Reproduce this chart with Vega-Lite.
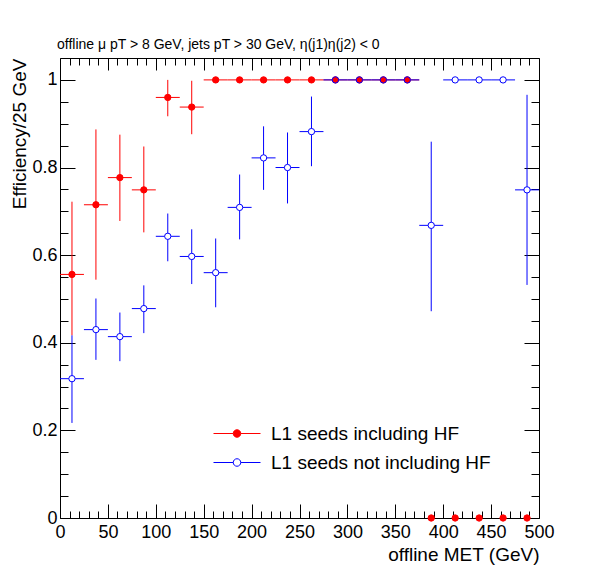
{
  "$schema": "https://vega.github.io/schema/vega-lite/v6.json",
  "autosize": "none",
  "padding": {"left": 60, "top": 58, "right": 59, "bottom": 58},
  "width": 479,
  "height": 460,
  "background": "white",
  "config": {
    "font": "Liberation Sans",
    "view": {"stroke": null},
    "axis": {"grid": false, "domainColor": "black", "tickColor": "black", "labelColor": "black", "titleColor": "black", "labelFont": "Liberation Sans", "titleFont": "Liberation Sans", "titleFontWeight": "normal", "labelFontSize": 18, "titleFontSize": 19, "domainWidth": 1, "tickWidth": 1}
  },
  "title": {"text": "offline μ pT > 8 GeV, jets pT > 30 GeV, η(j1)η(j2) < 0", "anchor": "start", "frame": "group", "fontSize": 14, "fontWeight": "normal", "font": "Liberation Sans", "color": "black", "offset": 6, "dx": -3},
  "datasets": {
    "eff": [
      {"series": "L1 seeds including HF", "met": 12.5, "bin_start": 0, "bin_end": 25, "eff": 0.556, "lo": 0.417, "hi": 0.722},
      {"series": "L1 seeds including HF", "met": 37.5, "bin_start": 25, "bin_end": 50, "eff": 0.715, "lo": 0.544, "hi": 0.887},
      {"series": "L1 seeds including HF", "met": 62.5, "bin_start": 50, "bin_end": 75, "eff": 0.777, "lo": 0.678, "hi": 0.875},
      {"series": "L1 seeds including HF", "met": 87.5, "bin_start": 75, "bin_end": 100, "eff": 0.749, "lo": 0.652, "hi": 0.848},
      {"series": "L1 seeds including HF", "met": 112.5, "bin_start": 100, "bin_end": 125, "eff": 0.960, "lo": 0.917, "hi": 1.0},
      {"series": "L1 seeds including HF", "met": 137.5, "bin_start": 125, "bin_end": 150, "eff": 0.938, "lo": 0.876, "hi": 0.998},
      {"series": "L1 seeds including HF", "met": 162.5, "bin_start": 150, "bin_end": 175, "eff": 1.0, "lo": 1.0, "hi": 1.0},
      {"series": "L1 seeds including HF", "met": 187.5, "bin_start": 175, "bin_end": 200, "eff": 1.0, "lo": 1.0, "hi": 1.0},
      {"series": "L1 seeds including HF", "met": 212.5, "bin_start": 200, "bin_end": 225, "eff": 1.0, "lo": 1.0, "hi": 1.0},
      {"series": "L1 seeds including HF", "met": 237.5, "bin_start": 225, "bin_end": 250, "eff": 1.0, "lo": 1.0, "hi": 1.0},
      {"series": "L1 seeds including HF", "met": 262.5, "bin_start": 250, "bin_end": 275, "eff": 1.0, "lo": 1.0, "hi": 1.0},
      {"series": "L1 seeds including HF", "met": 287.5, "bin_start": 275, "bin_end": 300, "eff": 1.0, "lo": 1.0, "hi": 1.0},
      {"series": "L1 seeds including HF", "met": 312.5, "bin_start": 300, "bin_end": 325, "eff": 1.0, "lo": 1.0, "hi": 1.0},
      {"series": "L1 seeds including HF", "met": 337.5, "bin_start": 325, "bin_end": 350, "eff": 1.0, "lo": 1.0, "hi": 1.0},
      {"series": "L1 seeds including HF", "met": 362.5, "bin_start": 350, "bin_end": 375, "eff": 1.0, "lo": 1.0, "hi": 1.0},
      {"series": "L1 seeds including HF", "met": 387.5, "bin_start": 375, "bin_end": 400, "eff": 0.0, "lo": 0.0, "hi": 0.0},
      {"series": "L1 seeds including HF", "met": 412.5, "bin_start": 400, "bin_end": 425, "eff": 0.0, "lo": 0.0, "hi": 0.0},
      {"series": "L1 seeds including HF", "met": 437.5, "bin_start": 425, "bin_end": 450, "eff": 0.0, "lo": 0.0, "hi": 0.0},
      {"series": "L1 seeds including HF", "met": 462.5, "bin_start": 450, "bin_end": 475, "eff": 0.0, "lo": 0.0, "hi": 0.0},
      {"series": "L1 seeds including HF", "met": 487.5, "bin_start": 475, "bin_end": 500, "eff": 0.0, "lo": 0.0, "hi": 0.0},
      {"series": "L1 seeds not including HF", "met": 12.5, "bin_start": 0, "bin_end": 25, "eff": 0.318, "lo": 0.217, "hi": 0.417},
      {"series": "L1 seeds not including HF", "met": 37.5, "bin_start": 25, "bin_end": 50, "eff": 0.430, "lo": 0.361, "hi": 0.501},
      {"series": "L1 seeds not including HF", "met": 62.5, "bin_start": 50, "bin_end": 75, "eff": 0.414, "lo": 0.358, "hi": 0.469},
      {"series": "L1 seeds not including HF", "met": 87.5, "bin_start": 75, "bin_end": 100, "eff": 0.478, "lo": 0.422, "hi": 0.531},
      {"series": "L1 seeds not including HF", "met": 112.5, "bin_start": 100, "bin_end": 125, "eff": 0.643, "lo": 0.586, "hi": 0.695},
      {"series": "L1 seeds not including HF", "met": 137.5, "bin_start": 125, "bin_end": 150, "eff": 0.597, "lo": 0.534, "hi": 0.659},
      {"series": "L1 seeds not including HF", "met": 162.5, "bin_start": 150, "bin_end": 175, "eff": 0.560, "lo": 0.481, "hi": 0.638},
      {"series": "L1 seeds not including HF", "met": 187.5, "bin_start": 175, "bin_end": 200, "eff": 0.709, "lo": 0.636, "hi": 0.784},
      {"series": "L1 seeds not including HF", "met": 212.5, "bin_start": 200, "bin_end": 225, "eff": 0.822, "lo": 0.749, "hi": 0.894},
      {"series": "L1 seeds not including HF", "met": 237.5, "bin_start": 225, "bin_end": 250, "eff": 0.800, "lo": 0.718, "hi": 0.880},
      {"series": "L1 seeds not including HF", "met": 262.5, "bin_start": 250, "bin_end": 275, "eff": 0.882, "lo": 0.803, "hi": 0.962},
      {"series": "L1 seeds not including HF", "met": 287.5, "bin_start": 275, "bin_end": 300, "eff": 1.0, "lo": 1.0, "hi": 1.0},
      {"series": "L1 seeds not including HF", "met": 312.5, "bin_start": 300, "bin_end": 325, "eff": 1.0, "lo": 1.0, "hi": 1.0},
      {"series": "L1 seeds not including HF", "met": 337.5, "bin_start": 325, "bin_end": 350, "eff": 1.0, "lo": 1.0, "hi": 1.0},
      {"series": "L1 seeds not including HF", "met": 362.5, "bin_start": 350, "bin_end": 375, "eff": 1.0, "lo": 1.0, "hi": 1.0},
      {"series": "L1 seeds not including HF", "met": 387.5, "bin_start": 375, "bin_end": 400, "eff": 0.668, "lo": 0.472, "hi": 0.859},
      {"series": "L1 seeds not including HF", "met": 412.5, "bin_start": 400, "bin_end": 425, "eff": 1.0, "lo": 1.0, "hi": 1.0},
      {"series": "L1 seeds not including HF", "met": 437.5, "bin_start": 425, "bin_end": 450, "eff": 1.0, "lo": 1.0, "hi": 1.0},
      {"series": "L1 seeds not including HF", "met": 462.5, "bin_start": 450, "bin_end": 475, "eff": 1.0, "lo": 1.0, "hi": 1.0},
      {"series": "L1 seeds not including HF", "met": 487.5, "bin_start": 475, "bin_end": 500, "eff": 0.749, "lo": 0.532, "hi": 0.966}
    ]
  },
  "data": {"name": "eff"},
  "resolve": {"axis": {"x": "independent", "y": "independent"}},
  "layer": [
    {
      "transform": [{"filter": "datum.series === 'L1 seeds including HF'"}],
      "mark": {"type": "rule", "color": "#ff0000", "strokeWidth": 1},
      "encoding": {
        "x": {"field": "met", "type": "quantitative", "scale": {"domain": [0, 500], "nice": false, "zero": false},
          "axis": {"orient": "bottom", "values": [0,10,20,30,40,50,60,70,80,90,100,110,120,130,140,150,160,170,180,190,200,210,220,230,240,250,260,270,280,290,300,310,320,330,340,350,360,370,380,390,400,410,420,430,440,450,460,470,480,490,500],
            "tickSize": {"condition": {"test": "datum.value % 50 === 0", "value": -14}, "value": -7},
            "labelExpr": "datum.value % 50 === 0 ? datum.label : ''", "labelPadding": 19, "labelFlush": false, "labelOverlap": false,
            "title": "offline MET (GeV)", "titleAnchor": "end", "titlePadding": -3}},
        "y": {"field": "lo", "type": "quantitative", "scale": {"domain": [0, 1.05], "nice": false, "zero": false},
          "axis": {"orient": "left", "values": [0,0.05,0.1,0.15,0.2,0.25,0.3,0.35,0.4,0.45,0.5,0.55,0.6,0.65,0.7,0.75,0.8,0.85,0.9,0.95,1.0],
            "tickSize": {"condition": {"test": "abs(datum.value*5 - round(datum.value*5)) < 0.001", "value": -15}, "value": -8},
            "format": "~g",
            "labelExpr": "abs(datum.value*5 - round(datum.value*5)) < 0.001 ? datum.label : ''", "labelPadding": 18, "labelFlush": false, "labelOverlap": false,
            "title": "Efficiency/25 GeV", "titleAnchor": "end", "titlePadding": 2}},
        "y2": {"field": "hi"}
      }
    },
    {
      "transform": [{"filter": "datum.series === 'L1 seeds including HF' && datum.eff > 0"}],
      "mark": {"type": "rule", "color": "#ff0000", "strokeWidth": 1},
      "encoding": {
        "x": {"field": "bin_start", "type": "quantitative",
          "axis": {"orient": "top", "values": [0,10,20,30,40,50,60,70,80,90,100,110,120,130,140,150,160,170,180,190,200,210,220,230,240,250,260,270,280,290,300,310,320,330,340,350,360,370,380,390,400,410,420,430,440,450,460,470,480,490,500],
            "tickSize": {"condition": {"test": "datum.value % 50 === 0", "value": -12}, "value": -7},
            "labels": false, "title": null}},
        "x2": {"field": "bin_end"},
        "y": {"field": "eff", "type": "quantitative",
          "axis": {"orient": "right", "values": [0,0.05,0.1,0.15,0.2,0.25,0.3,0.35,0.4,0.45,0.5,0.55,0.6,0.65,0.7,0.75,0.8,0.85,0.9,0.95,1.0],
            "tickSize": {"condition": {"test": "abs(datum.value*5 - round(datum.value*5)) < 0.001", "value": -15}, "value": -8},
            "labels": false, "title": null}}
      }
    },
    {
      "transform": [{"filter": "datum.series === 'L1 seeds not including HF'"}],
      "mark": {"type": "rule", "color": "#0000ff", "strokeWidth": 1},
      "encoding": {
        "x": {"field": "met", "type": "quantitative", "axis": null},
        "y": {"field": "lo", "type": "quantitative", "axis": null},
        "y2": {"field": "hi"}
      }
    },
    {
      "transform": [{"filter": "datum.series === 'L1 seeds not including HF'"}],
      "mark": {"type": "rule", "color": "#0000ff", "strokeWidth": 1},
      "encoding": {
        "x": {"field": "bin_start", "type": "quantitative", "axis": null},
        "x2": {"field": "bin_end"},
        "y": {"field": "eff", "type": "quantitative", "axis": null}
      }
    },
    {
      "transform": [{"filter": "datum.series === 'L1 seeds not including HF'"}],
      "mark": {"type": "point", "shape": "circle", "filled": true, "color": "white", "size": 40, "opacity": 1},
      "encoding": {
        "x": {"field": "met", "type": "quantitative", "axis": null},
        "y": {"field": "eff", "type": "quantitative", "axis": null}
      }
    },
    {
      "mark": {"type": "point", "shape": "circle", "size": 40, "strokeWidth": 1, "opacity": 1, "fillOpacity": 1, "strokeOpacity": 1},
      "encoding": {
        "x": {"field": "met", "type": "quantitative", "axis": null},
        "y": {"field": "eff", "type": "quantitative", "axis": null},
        "stroke": {"field": "series", "type": "nominal", "scale": {"domain": ["L1 seeds including HF", "L1 seeds not including HF"], "range": ["#ff0000", "#0000ff"]},
          "legend": {"orient": "none", "legendX": 153, "legendY": 361, "title": null, "padding": 0, "rowPadding": 0, "clipHeight": 29,
            "symbolType": "M-1,0H-0.16M0.16,0H1M-0.16,0A0.16,0.16 0 1,1 0.16,0A0.16,0.16 0 1,1 -0.16,0Z",
            "symbolSize": 2209, "symbolStrokeWidth": 1, "labelFontSize": 19, "labelFont": "Liberation Sans", "labelColor": "black", "labelOffset": 10, "labelLimit": 400}},
        "fill": {"field": "series", "type": "nominal", "scale": {"domain": ["L1 seeds including HF", "L1 seeds not including HF"], "range": ["#ff0000", "transparent"]},
          "legend": {"orient": "none", "legendX": 153, "legendY": 361, "title": null, "padding": 0, "rowPadding": 0, "clipHeight": 29,
            "symbolType": "M-1,0H-0.16M0.16,0H1M-0.16,0A0.16,0.16 0 1,1 0.16,0A0.16,0.16 0 1,1 -0.16,0Z",
            "symbolSize": 2209, "symbolStrokeWidth": 1, "labelFontSize": 19, "labelFont": "Liberation Sans", "labelColor": "black", "labelOffset": 10, "labelLimit": 400}}
      }
    }
  ]
}
